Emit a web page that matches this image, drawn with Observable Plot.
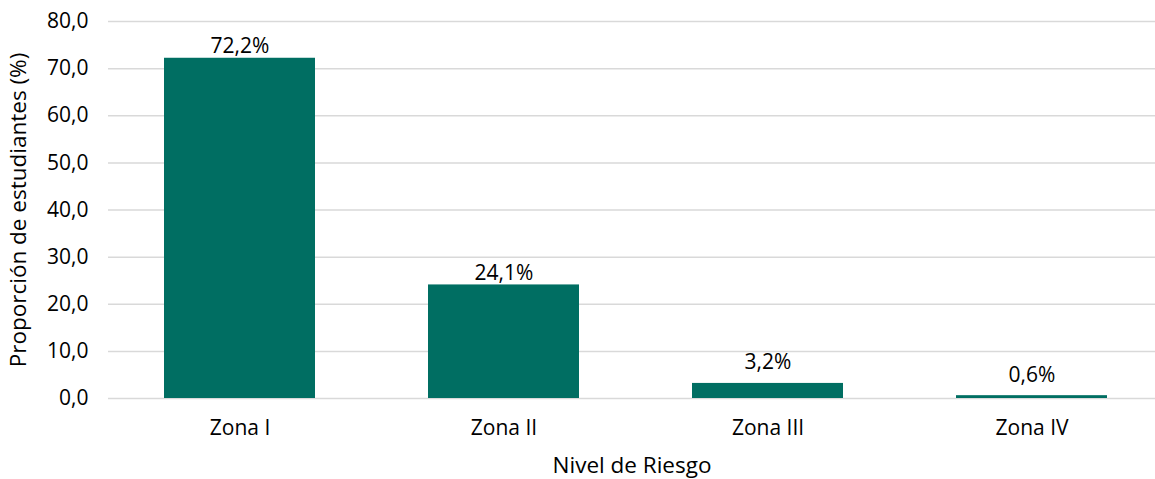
<!DOCTYPE html>
<html><head><meta charset="utf-8">
<script src="https://cdn.jsdelivr.net/npm/d3@7"></script>
<script src="https://cdn.jsdelivr.net/npm/@observablehq/plot@0.6"></script>
<style>body{margin:0;background:#fff;} svg{font-family:"Open Sans",sans-serif;}</style>
</head><body><div id="chart"></div>
<script>
const categories = ["Zona I", "Zona II", "Zona III", "Zona IV"];
const values = [72.2, 24.1, 3.2, 0.6];
const yTicks = [0, 10, 20, 30, 40, 50, 60, 70, 80];
const data = categories.map((c, i) => ({zona: c, valor: values[i]}));
const fmt = v => v.toFixed(1).replace(".", ",");
const lbl = d => fmt(d.valor) + "%";

const chart = Plot.plot({
  width: 1155,
  height: 479,
  marginTop: 21,
  marginBottom: 81,
  marginLeft: 108,
  marginRight: 0,
  style: {fontSize: "21px", fontFamily: "'Open Sans', sans-serif", color: "#000", background: "#fff"},
  x: {domain: categories, range: [108, 1164], paddingInner: 0.428, paddingOuter: 0.214, label: null},
  y: {domain: [0, 80], range: [398, 21], label: null},
  marks: [
    Plot.ruleY(yTicks, {stroke: "#d9d9d9", strokeWidth: 1.5}),
    Plot.barY(data, {x: "zona", y: "valor", fill: "#006e62"}),
    Plot.text(data, {filter: d => d.valor >= 10, x: "zona", y: "valor", text: lbl, lineAnchor: "bottom", dy: -5, fontSize: 21, fill: "#000"}),
    Plot.text(data, {filter: d => d.valor < 10, x: "zona", y: "valor", text: lbl, lineAnchor: "bottom", dy: -14, fontSize: 21, fill: "#000"}),
    Plot.axisY({ticks: yTicks, tickFormat: fmt, tickSize: 0, tickPadding: 20, fontSize: 21,
      label: null}),
    Plot.axisY({ticks: [], tickSize: 0, fontSize: 22.5,
      label: "Proporción de estudiantes (%)", labelAnchor: "center", labelArrow: "none", labelOffset: 98}),
    Plot.axisX({tickSize: 0, tickPadding: 22, fontSize: 21, label: null}),
    Plot.axisX({ticks: [], tickSize: 0, fontSize: 22.5,
      label: "Nivel de Riesgo", labelAnchor: "center", labelArrow: "none", labelOffset: 74})
  ]
});
document.getElementById("chart").appendChild(chart);
</script></body></html>
